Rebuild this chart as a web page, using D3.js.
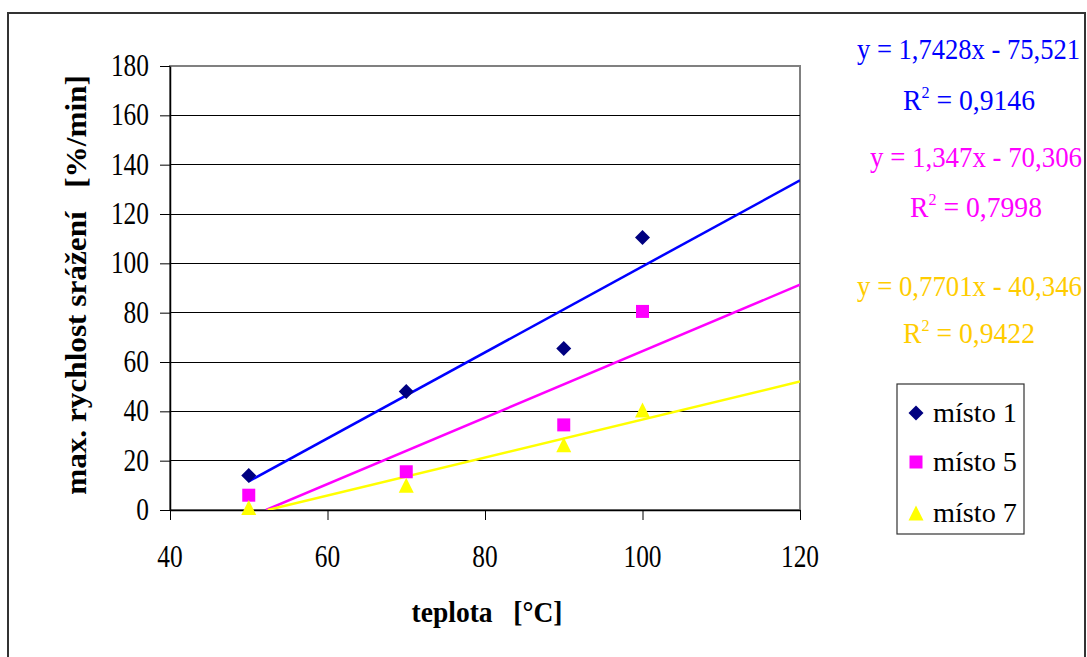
<!DOCTYPE html>
<html><head><meta charset="utf-8">
<script src="https://cdn.jsdelivr.net/npm/d3@7"></script>
<style>html,body{margin:0;padding:0;background:#fff;}svg{display:block;}text{white-space:pre;}</style>
</head><body>
<svg id="c" width="1087" height="657"></svg>
<script>
// ---- data ----
const temps = [50, 70, 90, 100];
const seriesNames = ["místo 1", "místo 5", "místo 7"];
const misto1 = [14, 48, 65.5, 110.5];
const misto5 = [6, 15.5, 34.5, 80.5];
const misto7 = [1, 10, 26.5, 40.5];
const slopes = [1.7428, 1.347, 0.7701];
const intercepts = [-75.521, -70.306, -40.346];
const eqLabels = ["y = 1,7428x - 75,521", "y = 1,347x - 70,306", "y = 0,7701x - 40,346"];
const r2Labels = ["0,9146", "0,7998", "0,9422"];
const xTicks = [40, 60, 80, 100, 120];
const yTicks = [0, 20, 40, 60, 80, 100, 120, 140, 160, 180];
const xTitle = "teplota   [°C]";
const yTitle = "max. rychlost srážení   [%/min]";

// ---- styles ----
const markerFill = ["#000080", "#FF00FF", "#FFFF00"];
const lineColor = ["#0000FF", "#FF00FF", "#FFFF00"];
const textColor = ["#0000FF", "#FF00FF", "#FFCC00"];
const FONT = "'Liberation Serif','Times New Roman',serif";

const svg = d3.select("#c");
const x = d3.scaleLinear().domain([40, 120]).range([170, 800]);
const y = d3.scaleLinear().domain([0, 180]).range([510, 66]);

// outer border
svg.append("rect").attr("x", 8).attr("y", 13).attr("width", 1077).attr("height", 700)
  .attr("fill", "#fff").attr("stroke", "#333").attr("stroke-width", 2);

function addText(parent, x0, y0, opts, build) {
  const g = parent.append("g");
  const t = g.append("text").attr("x", 0).attr("y", 0)
    .attr("font-family", FONT).attr("font-size", opts.size)
    .attr("font-weight", opts.weight || "normal")
    .attr("fill", opts.fill || "#000")
    .attr("text-anchor", opts.anchor || "start");
  build(t);
  const w = t.node().getBBox().width;
  const sx = opts.width ? opts.width / w : (opts.sx || 1);
  g.attr("transform", `translate(${x0},${y0})` + (opts.rotate ? ` rotate(${opts.rotate})` : "") + ` scale(${sx},1)`);
  return g;
}

// plot area
svg.append("rect").attr("x", x(40)).attr("y", y(180))
  .attr("width", x(120) - x(40)).attr("height", y(0) - y(180))
  .attr("fill", "#fff").attr("stroke", "#808080").attr("stroke-width", 2);

// gridlines
svg.append("g").selectAll("line").data(yTicks.filter(d => d > 0 && d < 180)).join("line")
  .attr("x1", x(40)).attr("x2", x(120))
  .attr("y1", d => y(d)).attr("y2", d => y(d))
  .attr("stroke", "#000").attr("stroke-width", 1).attr("shape-rendering", "crispEdges");

// axes
const gy = svg.append("g").attr("transform", `translate(${x(40)},0)`)
  .call(d3.axisLeft(y).tickValues(yTicks).tickSize(10).tickSizeOuter(0).tickFormat(d3.format("d")));
const gx = svg.append("g").attr("transform", `translate(0,${y(0)})`)
  .call(d3.axisBottom(x).tickValues(xTicks).tickSize(10).tickSizeOuter(0).tickFormat(d3.format("d")));
[gy, gx].forEach(g => {
  g.select(".domain").attr("stroke", "#000").attr("stroke-width", 1.5);
  g.selectAll(".tick line").attr("stroke", "#000").attr("stroke-width", 1);
  g.selectAll(".tick text").remove();
});
// tick labels (narrow serif)
yTicks.forEach(v => {
  addText(svg, 149, y(v) + 10, {size: 31, anchor: "end", sx: 0.82}, t => t.text(v));
});
xTicks.forEach(v => {
  addText(svg, x(v), 567, {size: 31, anchor: "middle", sx: 0.82}, t => t.text(v));
});

// trendlines
svg.append("clipPath").attr("id", "pc").append("rect")
  .attr("x", x(40)).attr("y", y(180)).attr("width", x(120) - x(40)).attr("height", y(0) - y(180));
const lines = svg.append("g").attr("clip-path", "url(#pc)");
slopes.forEach((a, i) => {
  const b = intercepts[i];
  const xs = Math.max(temps[0], -b / a);
  const pts = [[xs, a * xs + b], [120, a * 120 + b]];
  lines.append("path")
    .attr("d", d3.line().x(d => x(d[0])).y(d => y(d[1]))(pts))
    .attr("fill", "none").attr("stroke", lineColor[i]).attr("stroke-width", 2.5);
});

// markers
const shapes = [
  "M0,-7.5L7.5,0L0,7.5L-7.5,0Z",
  "M-6.5,-6.5H6.5V6.5H-6.5Z",
  "M0,-7.5L7.5,7.5H-7.5Z"
];
[misto1, misto5, misto7].forEach((vals, i) => {
  svg.append("g").selectAll("path").data(vals).join("path")
    .attr("transform", (d, j) => `translate(${x(temps[j])},${y(d)})`)
    .attr("d", shapes[i]).attr("fill", markerFill[i]);
});

// axis titles
addText(svg, 487, 622, {size: 30, weight: "bold", anchor: "middle", width: 151}, t => t.text(xTitle));
addText(svg, 86, 285, {size: 29, weight: "bold", anchor: "middle", width: 420, rotate: -90}, t => t.text(yTitle));

// equations
const eqPos = [
  {x1: 857, x2: 1080, yb: 59, r2c: 969, r2b: 110, r2w: 132},
  {x1: 870, x2: 1082, yb: 167, r2c: 976, r2b: 217, r2w: 132},
  {x1: 857, x2: 1082, yb: 296, r2c: 969, r2b: 343, r2w: 132}
];
eqLabels.forEach((s, i) => {
  const p = eqPos[i];
  addText(svg, (p.x1 + p.x2) / 2, p.yb, {size: 29, anchor: "middle", fill: textColor[i], width: p.x2 - p.x1}, t => t.text(s));
  addText(svg, p.r2c, p.r2b, {size: 29, anchor: "middle", fill: textColor[i], width: p.r2w}, t => {
    t.append("tspan").text("R");
    t.append("tspan").attr("dy", -12).attr("font-size", 17).text("2");
    t.append("tspan").attr("dy", 12).text(" = " + r2Labels[i]);
  });
});

// legend
const lg = svg.append("g");
lg.append("rect").attr("x", 897).attr("y", 384).attr("width", 127).attr("height", 150)
  .attr("fill", "#fff").attr("stroke", "#333").attr("stroke-width", 1.2);
const legY = [413, 462, 513];
seriesNames.forEach((n, i) => {
  lg.append("path").attr("transform", `translate(916,${legY[i]})`).attr("d", shapes[i]).attr("fill", markerFill[i]);
  addText(lg, 933, legY[i] + 9, {size: 28, width: 84}, t => t.text(n));
});
</script>
</body></html>
